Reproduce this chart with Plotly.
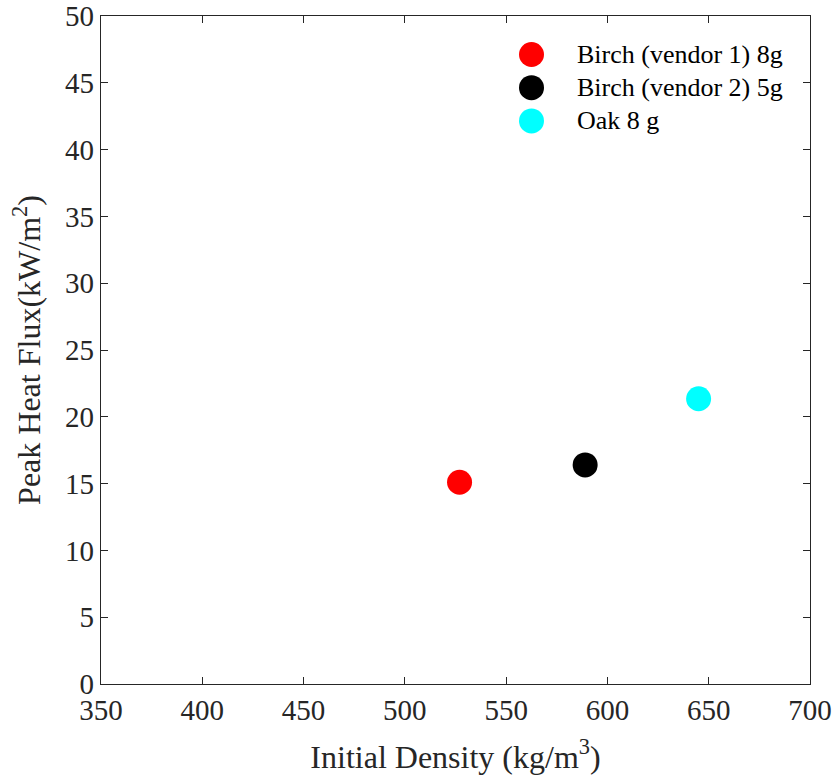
import plotly.graph_objects as go

names = ["Birch (vendor 1) 8g", "Birch (vendor 2) 5g", "Oak 8 g"]
density = [527, 589, 645]
peak_flux = [15.1, 16.4, 21.35]
colors = ["#ff0000", "#000000", "#00ffff"]

x_ticks = [350, 400, 450, 500, 550, 600, 650, 700]
y_ticks = [0, 5, 10, 15, 20, 25, 30, 35, 40, 45, 50]

FONT = "Liberation Serif, Times New Roman, serif"
AX = "#262626"
W, H = 835, 781
L, R, T, B = 101, 25, 16, 97

fig = go.Figure()
for n, xv, yv, c in zip(names, density, peak_flux, colors):
    fig.add_trace(go.Scatter(
        x=[xv], y=[yv], mode="markers", name=n, showlegend=False,
        marker=dict(color=c, size=25, line=dict(width=0)),
    ))

# custom legend drawn on a hidden pixel-coordinate overlay axis
leg_x = 531.5
leg_y0, leg_dy = 54.5, 33.2
leg_ys = [leg_y0 + i * leg_dy for i in range(len(names))]
fig.add_trace(go.Scatter(
    x=[leg_x] * len(names), y=leg_ys, mode="markers", showlegend=False,
    hoverinfo="skip", xaxis="x2", yaxis="y2",
    marker=dict(color=colors, size=25, line=dict(width=0)),
))
for n, yy in zip(names, leg_ys):
    fig.add_annotation(x=575, y=yy, xref="x2", yref="y2", text=n, showarrow=False,
                       xanchor="left", yanchor="middle",
                       font=dict(family=FONT, size=26, color="#000000"))

axis_common = dict(
    showline=True, linecolor=AX, linewidth=1.3, mirror="ticks",
    ticks="inside", ticklen=7, tickwidth=1.3, tickcolor=AX,
    showgrid=False, zeroline=False, automargin=False,
    tickfont=dict(family=FONT, size=29, color=AX),
)

fig.update_layout(
    width=W, height=H,
    margin=dict(l=L, r=R, t=T, b=B),
    paper_bgcolor="white", plot_bgcolor="white",
    font=dict(family=FONT, color=AX),
    xaxis=dict(range=[350, 700], tickvals=x_ticks, ticktext=[str(v) for v in x_ticks],
               title=dict(text="Initial Density (kg/m<sup>3</sup>)", font=dict(family=FONT, size=32, color=AX), standoff=20),
               **axis_common),
    yaxis=dict(range=[0, 50], tickvals=y_ticks, ticktext=[str(v) for v in y_ticks],
               title=dict(text="Peak Heat Flux(kW/m<sup>2</sup>)", font=dict(family=FONT, size=32, color=AX), standoff=14),
               **axis_common),
    xaxis2=dict(range=[L, W - R], overlaying="x", visible=False, fixedrange=True),
    yaxis2=dict(range=[H - B, T], overlaying="y", visible=False, fixedrange=True),
    showlegend=False,
)

fig.write_html("out.html")
